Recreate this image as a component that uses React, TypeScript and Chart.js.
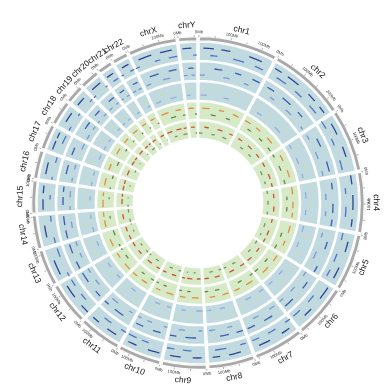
import React, { useEffect, useRef } from "react";
import { Chart, registerables } from "chart.js";

Chart.register(...registerables);

// ---------------- data ----------------
const chromNames = [
  "chr1", "chr2", "chr3", "chr4", "chr5", "chr6", "chr7", "chr8", "chr9", "chr10",
  "chr11", "chr12", "chr13", "chr14", "chr15", "chr16", "chr17", "chr18", "chr19",
  "chr20", "chr21", "chr22", "chrX", "chrY",
];
// chromosome lengths in Mb
const chromLengths = [
  249, 243, 198, 191, 181, 171, 159, 146, 141, 136, 135, 134, 115, 107, 103, 90, 81, 78, 59,
  63, 48, 51, 155, 59,
];
const tickLabelsMb = [0, 100, 200];
const gapDegrees = 0.6;

// marks: per chromosome, [startMb, lengthMb]
const trackB1a = [
  [[15, 35], [75, 30], [170, 45]], [[10, 25], [60, 45], [150, 30], [205, 25]], [[25, 40], [110, 35]],
  [[5, 30], [70, 50], [150, 25]], [[30, 35], [120, 40]], [[10, 45], [100, 30]], [[20, 30], [95, 40]],
  [[35, 40], [105, 25]], [[15, 30], [85, 35]], [[10, 40], [90, 30]], [[25, 35], [95, 25]],
  [[5, 30], [70, 45]], [[20, 50]], [[30, 40]], [[10, 35], [65, 25]], [[20, 40]], [[10, 30], [50, 20]],
  [[25, 35]], [[10, 30]], [[15, 35]], [[10, 25]], [[15, 25]], [[20, 45], [95, 40]], [[10, 30]],
];
const trackB1b = [
  [[40, 25], [120, 40], [200, 30]], [[30, 40], [110, 30], [180, 35]], [[0, 30], [70, 25], [150, 35]],
  [[45, 20], [110, 35]], [[5, 25], [80, 30], [140, 25]], [[60, 30], [130, 30]], [[0, 20], [60, 30], [125, 25]],
  [[10, 20], [80, 40]], [[50, 30], [110, 25]], [[55, 25], [100, 30]], [[0, 20], [60, 30]],
  [[40, 25], [100, 25]], [[0, 15], [75, 30]], [[5, 20], [80, 20]], [[45, 15]], [[5, 10], [65, 20]],
  [[40, 30]], [[5, 15], [65, 10]], [[45, 12]], [[0, 10], [55, 8]], [[20, 20]], [[0, 10], [35, 15]],
  [[0, 15], [70, 20], [120, 30]], [[45, 12]],
];
const trackB2a = [
  [[60, 30], [140, 25], [210, 30]], [[20, 30], [90, 40], [170, 25]], [[45, 35], [140, 40]],
  [[20, 25], [100, 35], [160, 25]], [[50, 30], [150, 25]], [[35, 30], [120, 40]], [[45, 35], [120, 30]],
  [[5, 25], [60, 35]], [[35, 40], [110, 25]], [[25, 30], [95, 30]], [[40, 40], [110, 20]],
  [[15, 25], [85, 40]], [[5, 30], [70, 35]], [[10, 30], [60, 35]], [[25, 30], [75, 20]], [[35, 35]],
  [[15, 30]], [[40, 30]], [[20, 25]], [[30, 25]], [[15, 20]], [[20, 20]], [[35, 35], [110, 30]], [[25, 20]],
];
const trackB2b = [
  [[5, 20], [100, 25], [185, 20]], [[50, 20], [130, 30], [220, 15]], [[15, 20], [90, 30], [170, 20]],
  [[60, 25], [130, 20]], [[20, 20], [100, 30]], [[5, 20], [80, 25], [145, 20]], [[15, 25], [90, 25]],
  [[40, 20], [110, 25]], [[10, 15], [80, 25]], [[5, 15], [70, 20], [115, 15]], [[15, 15], [85, 30]],
  [[50, 25], [110, 20]], [[40, 20], [90, 20]], [[45, 25]], [[5, 15], [55, 25]], [[10, 15], [60, 20]],
  [[50, 25]], [[10, 20], [55, 15]], [[5, 10], [40, 15]], [[10, 15], [45, 12]], [[5, 10], [30, 12]],
  [[5, 15], [30, 15]], [[10, 20], [80, 30]], [[5, 15], [35, 15]],
];
const trackB3a = [
  [[30, 6], [90, 5], [160, 6], [220, 5]], [[20, 5], [100, 6], [190, 5]], [[40, 6], [130, 5]],
  [[25, 5], [110, 6], [170, 5]], [[60, 6], [140, 5]], [[30, 5], [100, 6]], [[50, 6], [130, 5]],
  [[20, 5], [90, 6]], [[60, 6], [120, 5]], [[40, 5], [100, 6]], [[30, 6], [110, 5]], [[50, 6]],
  [[30, 5], [90, 6]], [[45, 6]], [[30, 6], [80, 5]], [[40, 5]], [[20, 6], [60, 5]], [[35, 6]],
  [[25, 5]], [[30, 6]], [[20, 5]], [[25, 5]], [[50, 6], [120, 5]], [[30, 5]],
];
const trackB3b = [
  [[10, 30], [120, 25]], [[40, 25], [150, 35]], [[10, 20], [80, 30], [160, 20]], [[45, 30], [130, 25]],
  [[10, 30], [90, 25]], [[60, 25], [130, 25]], [[10, 25], [80, 30]], [[50, 25], [115, 20]],
  [[5, 30], [85, 20]], [[10, 20], [65, 25]], [[55, 25]], [[10, 25], [80, 25]], [[55, 25]],
  [[5, 25], [70, 20]], [[45, 20]], [[5, 20], [55, 20]], [[40, 25]], [[5, 20], [50, 15]], [[35, 15]],
  [[5, 15], [40, 15]], [[25, 15]], [[30, 15]], [[20, 25], [90, 30]], [[10, 15]],
];
const trackG1a = [
  [[20, 40], [110, 30], [190, 35]], [[10, 35], [80, 30], [160, 40]], [[30, 35], [120, 40]],
  [[10, 40], [90, 35], [150, 25]], [[25, 40], [110, 30]], [[15, 35], [95, 40]], [[30, 40], [110, 30]],
  [[10, 35], [85, 30]], [[25, 35], [95, 30]], [[15, 40], [90, 25]], [[30, 35], [95, 30]],
  [[10, 40], [90, 30]], [[25, 40]], [[15, 35], [70, 25]], [[10, 40], [70, 20]], [[20, 40]], [[10, 35]],
  [[20, 35]], [[10, 30]], [[15, 30]], [[10, 25]], [[10, 25]], [[20, 40], [100, 30]], [[10, 30]],
];
const trackG1b = [
  [[70, 30], [160, 25]], [[45, 25], [130, 25], [205, 25]], [[5, 20], [80, 30], [165, 25]],
  [[60, 20], [120, 25]], [[75, 25], [150, 25]], [[60, 25], [140, 25]], [[5, 20], [80, 25]],
  [[55, 25], [120, 20]], [[70, 20], [120, 15]], [[65, 20], [115, 15]], [[5, 20], [70, 20]],
  [[60, 25], [120, 10]], [[5, 15], [75, 30]], [[55, 15]], [[55, 10]], [[5, 10], [65, 20]], [[50, 25]],
  [[60, 15]], [[45, 12]], [[50, 10]], [[38, 8]], [[38, 10]], [[65, 30], [135, 15]], [[45, 10]],
];
const trackG2a = [
  [[40, 30], [130, 35], [215, 25]], [[30, 30], [110, 35], [190, 30]], [[15, 30], [100, 35], [165, 25]],
  [[35, 30], [120, 35]], [[10, 25], [90, 35], [150, 25]], [[40, 30], [120, 35]], [[10, 30], [90, 35]],
  [[30, 35], [105, 30]], [[10, 25], [65, 35], [115, 20]], [[30, 30], [100, 25]], [[10, 25], [75, 35]],
  [[30, 30], [95, 30]], [[10, 30], [70, 30]], [[35, 35]], [[25, 35], [75, 20]], [[10, 30], [55, 25]],
  [[20, 35]], [[10, 30], [50, 20]], [[15, 30]], [[5, 25], [40, 15]], [[5, 25]], [[15, 25]],
  [[10, 35], [75, 35], [125, 20]], [[15, 25]],
];
const trackG2b = [
  [[5, 25], [95, 25], [180, 30]], [[75, 25], [155, 25]], [[60, 30], [140, 20]], [[5, 25], [80, 30], [160, 20]],
  [[50, 30], [130, 15]], [[5, 25], [85, 25]], [[55, 25], [130, 20]], [[5, 20], [70, 25]],
  [[45, 15], [100, 10]], [[5, 20], [70, 25]], [[45, 25], [115, 15]], [[5, 20], [70, 20]],
  [[50, 15], [105, 8]], [[5, 25], [75, 25]], [[5, 15], [65, 8]], [[45, 10]], [[60, 15]], [[45, 5]],
  [[50, 8]], [[35, 25]], [[35, 10]], [[45, 5]], [[50, 20], [115, 30]], [[45, 10]],
];

// ---------------- layout & style ----------------
const OUTER_R = 167;
const HOLE_R = 64;
const PADDING = { left: 31, right: 25, top: 36, bottom: 20 };
const TRANSPARENT = "rgba(0,0,0,0)";
const GREY = "#a9a9a9";
const BLUE_BG = "#c1dae0";
const GREEN_BG = "#d6eac7";
const ringLayout = [
  { color: GREY, width: 5.5 },
  { color: BLUE_BG, width: 19.5 },
  { color: BLUE_BG, width: 20 },
  { color: BLUE_BG, width: 20 },
  { color: GREEN_BG, width: 19 },
  { color: GREEN_BG, width: 19 },
];
const TRACK_THICK = 1.3;
const trackLayout = [
  { marks: trackB1a, color: "#2f4496", radius: 155 },
  { marks: trackB1b, color: "#5374c6", radius: 148 },
  { marks: trackB2a, color: "#3d5bb0", radius: 135 },
  { marks: trackB2b, color: "#7c98d4", radius: 128 },
  { marks: trackB3a, color: "#d9e64a", radius: 114 },
  { marks: trackB3b, color: "#97acd6", radius: 108 },
  { marks: trackG1a, color: "#e08f40", radius: 95 },
  { marks: trackG1b, color: "#66854a", radius: 89 },
  { marks: trackG2a, color: "#cc5234", radius: 76 },
  { marks: trackG2b, color: "#7a9555", radius: 70 },
];
const FONT_FAMILY = "'Liberation Sans', Arial, sans-serif";

// ---------------- build datasets ----------------
const totalLen = chromLengths.reduce((a, b) => a + b, 0);
const gapMb = (totalLen * gapDegrees) / (360 - gapDegrees * chromLengths.length);
const bgData = chromLengths.flatMap((l) => [l, gapMb]);

const bgDatasets = ringLayout.map((ring) => ({
  data: bgData,
  backgroundColor: chromLengths.flatMap(() => [ring.color, TRANSPARENT]),
  borderColor: "#ffffff",
  borderWidth: chromLengths.flatMap(() => [1, 0]),
  borderAlign: "inner" as const,
  weight: ring.width,
  hoverOffset: 0,
  offset: 0,
}));

function buildTrack(marks: number[][][], color: string) {
  const data: number[] = [];
  const colors: string[] = [];
  chromLengths.forEach((len, i) => {
    let cur = 0;
    for (const [s, l] of marks[i] || []) {
      const start = Math.max(s, cur);
      const end = Math.min(s + l, len);
      if (end <= start) continue;
      if (start > cur) {
        data.push(start - cur);
        colors.push(TRANSPARENT);
      }
      data.push(end - start);
      colors.push(color);
      cur = end;
    }
    if (len > cur) {
      data.push(len - cur);
      colors.push(TRANSPARENT);
    }
    data.push(gapMb);
    colors.push(TRANSPARENT);
  });
  return data.map((v, k) => ({ v, c: colors[k] }));
}

function spacer(weight: number) {
  return {
    data: [1],
    backgroundColor: [TRANSPARENT],
    borderWidth: 0,
    weight: Math.max(weight, 0.001),
    hoverOffset: 0,
    offset: 0,
  };
}

const fgDatasets: any[] = [];
{
  let cursor = OUTER_R;
  const sorted = [...trackLayout].sort((a, b) => b.radius - a.radius);
  for (const t of sorted) {
    const top = t.radius + TRACK_THICK / 2;
    fgDatasets.push(spacer(cursor - top));
    const pieces = buildTrack(t.marks, t.color);
    fgDatasets.push({
      data: pieces.map((p) => p.v),
      backgroundColor: pieces.map((p) => p.c),
      borderWidth: 0,
      weight: TRACK_THICK,
      hoverOffset: 0,
      offset: 0,
    });
    cursor = t.radius - TRACK_THICK / 2;
  }
  fgDatasets.push(spacer(cursor - HOLE_R));
}

// ---------------- label plugin ----------------
function drawBentText(
  ctx: CanvasRenderingContext2D,
  cx: number,
  cy: number,
  angle: number,
  r: number,
  text: string
) {
  const x = cx + r * Math.cos(angle);
  const y = cy + r * Math.sin(angle);
  ctx.save();
  ctx.translate(x, y);
  const flip = Math.sin(angle) > 0.0001;
  ctx.rotate(flip ? angle - Math.PI / 2 : angle + Math.PI / 2);
  ctx.textAlign = "center";
  ctx.textBaseline = "middle";
  ctx.fillText(text, 0, 0);
  ctx.restore();
}

const labelPlugin = {
  id: "circosLabels",
  afterDatasetsDraw(chart: any) {
    const meta = chart.getDatasetMeta(0);
    const ctx: CanvasRenderingContext2D = chart.ctx;
    chromNames.forEach((name, i) => {
      const arc = meta.data[2 * i];
      if (!arc) return;
      const { x, y, startAngle, endAngle, outerRadius } = arc;
      const len = chromLengths[i];
      // ticks & tick labels
      ctx.fillStyle = "#333333";
      ctx.font = `4.2px ${FONT_FAMILY}`;
      ctx.strokeStyle = "#666666";
      ctx.lineWidth = 0.5;
      for (let mb = 0; mb <= len; mb += 50) {
        const a = startAngle + (mb / len) * (endAngle - startAngle);
        ctx.beginPath();
        ctx.moveTo(x + (outerRadius - 1) * Math.cos(a), y + (outerRadius - 1) * Math.sin(a));
        ctx.lineTo(x + (outerRadius + 1) * Math.cos(a), y + (outerRadius + 1) * Math.sin(a));
        ctx.stroke();
      }
      tickLabelsMb.forEach((mb) => {
        if (mb > len) return;
        const a = startAngle + (mb / len) * (endAngle - startAngle);
        drawBentText(ctx, x, y, a, outerRadius + 4, `${mb}Mb`);
      });
      // chromosome name
      ctx.fillStyle = "#151515";
      ctx.font = `8.5px ${FONT_FAMILY}`;
      drawBentText(ctx, x, y, (startAngle + endAngle) / 2, outerRadius + 11, name);
    });
  },
};

// ---------------- component ----------------
const baseOptions = {
  responsive: false,
  animation: false as const,
  events: [] as any[],
  cutout: HOLE_R,
  rotation: gapDegrees / 2,
  circumference: 360,
  layout: { padding: PADDING },
  plugins: { legend: { display: false }, tooltip: { enabled: false } },
};

export default function App() {
  const bgRef = useRef<HTMLCanvasElement>(null);
  const fgRef = useRef<HTMLCanvasElement>(null);

  useEffect(() => {
    const bg = new Chart(bgRef.current!, {
      type: "doughnut",
      data: { labels: bgData.map((_, k) => String(k)), datasets: bgDatasets as any },
      options: baseOptions as any,
      plugins: [labelPlugin],
    });
    const fg = new Chart(fgRef.current!, {
      type: "doughnut",
      data: { datasets: fgDatasets },
      options: baseOptions as any,
    });
    return () => {
      bg.destroy();
      fg.destroy();
    };
  }, []);

  return (
    <div
      style={{ position: "fixed", left: 0, top: 0, width: 390, height: 390, background: "#ffffff" }}
    >
      <canvas
        ref={bgRef}
        width={390}
        height={390}
        style={{ position: "absolute", left: 0, top: 0, width: 390, height: 390 }}
      />
      <canvas
        ref={fgRef}
        width={390}
        height={390}
        style={{ position: "absolute", left: 0, top: 0, width: 390, height: 390 }}
      />
    </div>
  );
}
